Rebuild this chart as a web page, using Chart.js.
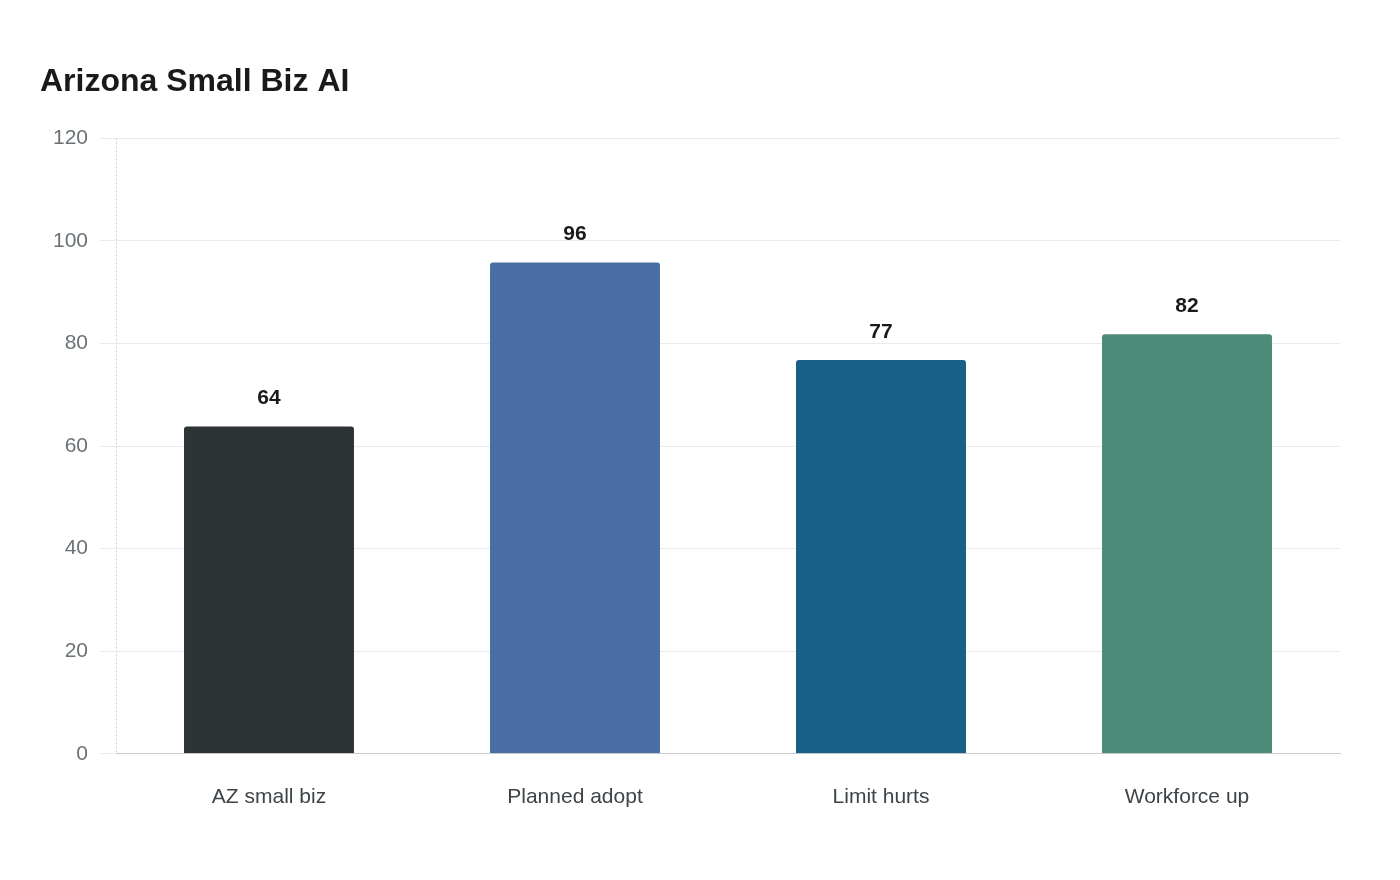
<!DOCTYPE html>
<html>
<head>
<meta charset="utf-8">
<title>Arizona Small Biz AI</title>
<script src="https://cdn.jsdelivr.net/npm/chart.js@4/dist/chart.umd.min.js"></script>
<style>
  html, body { margin: 0; padding: 0; background: #fff; }
  #wrap { width: 1400px; height: 880px; }
</style>
</head>
<body>
<div id="wrap"><canvas id="chart_bar" width="1400" height="880"></canvas></div>
<script>
var categories = ['AZ small biz', 'Planned adopt', 'Limit hurts', 'Workforce up']
var values = [64, 96, 77, 82]
var barColors = ['#2d3436', '#4a6fa4', '#186087', '#4d8b79']
var yTicks = [0, 20, 40, 60, 80, 100, 120]

var font = '"Liberation Sans", Arial, sans-serif'

// draws the number over each bar
var valueLabels = {
  id: 'valueLabels',
  afterDatasetsDraw: function(chart){
    var ctx = chart.ctx
    var meta = chart.getDatasetMeta(0)
    ctx.save()
    ctx.font = 'bold 21px ' + font
    ctx.fillStyle = '#1a1a1a'
    ctx.textAlign = 'center'
    ctx.textBaseline = 'middle'
    meta.data.forEach(function(bar, i){
      ctx.fillText(values[i], bar.x, bar.y - 27)
    })
    ctx.restore()
  }
}

var ctx = document.getElementById('chart_bar')
var myChart = new Chart(ctx, {
  type: 'bar',
  data: {
    labels: categories,
    datasets: [{
      data: values,
      backgroundColor: barColors,
      borderColor: 'rgba(255,255,255,0.35)',
      borderWidth: 1,
      borderSkipped: 'bottom',
      borderRadius: { topLeft: 4, topRight: 4 },
      categoryPercentage: 1,
      barPercentage: 0.562
    }]
  },
  options: {
    responsive: false,
    animation: false,
    devicePixelRatio: 1,
    layout: { padding: { left: 40, right: 60, top: 63, bottom: 39 } },
    plugins: {
      legend: { display: false },
      tooltip: { enabled: false },
      title: {
        display: true,
        text: 'Arizona Small Biz AI',
        align: 'start',
        color: '#1a1a1a',
        font: { family: font, size: 32, weight: 'bold' },
        padding: { top: 0, bottom: 37 }
      }
    },
    scales: {
      x: {
        // only the left edge line is shown, dotted
        grid: {
          display: true,
          drawTicks: false,
          color: function(c){ return c.index === 0 ? '#d0d0d0' : 'rgba(0,0,0,0)' }
        },
        border: { display: true, color: '#cccccc', width: 1, dash: [2, 2] },
        ticks: {
          color: '#3d4448',
          padding: 31,
          font: { family: font, size: 21 }
        }
      },
      y: {
        min: 0,
        max: 120,
        afterBuildTicks: function(axis){
          axis.ticks = yTicks.map(function(v){ return { value: v } })
        },
        afterFit: function(axis){ axis.width = 76 },
        grid: { color: '#e9e9e9', tickLength: 16, lineWidth: 1 },
        border: { display: false },
        ticks: {
          color: '#6b7275',
          padding: 12,
          font: { family: font, size: 21 }
        }
      }
    }
  },
  plugins: [valueLabels]
})
</script>
</body>
</html>
